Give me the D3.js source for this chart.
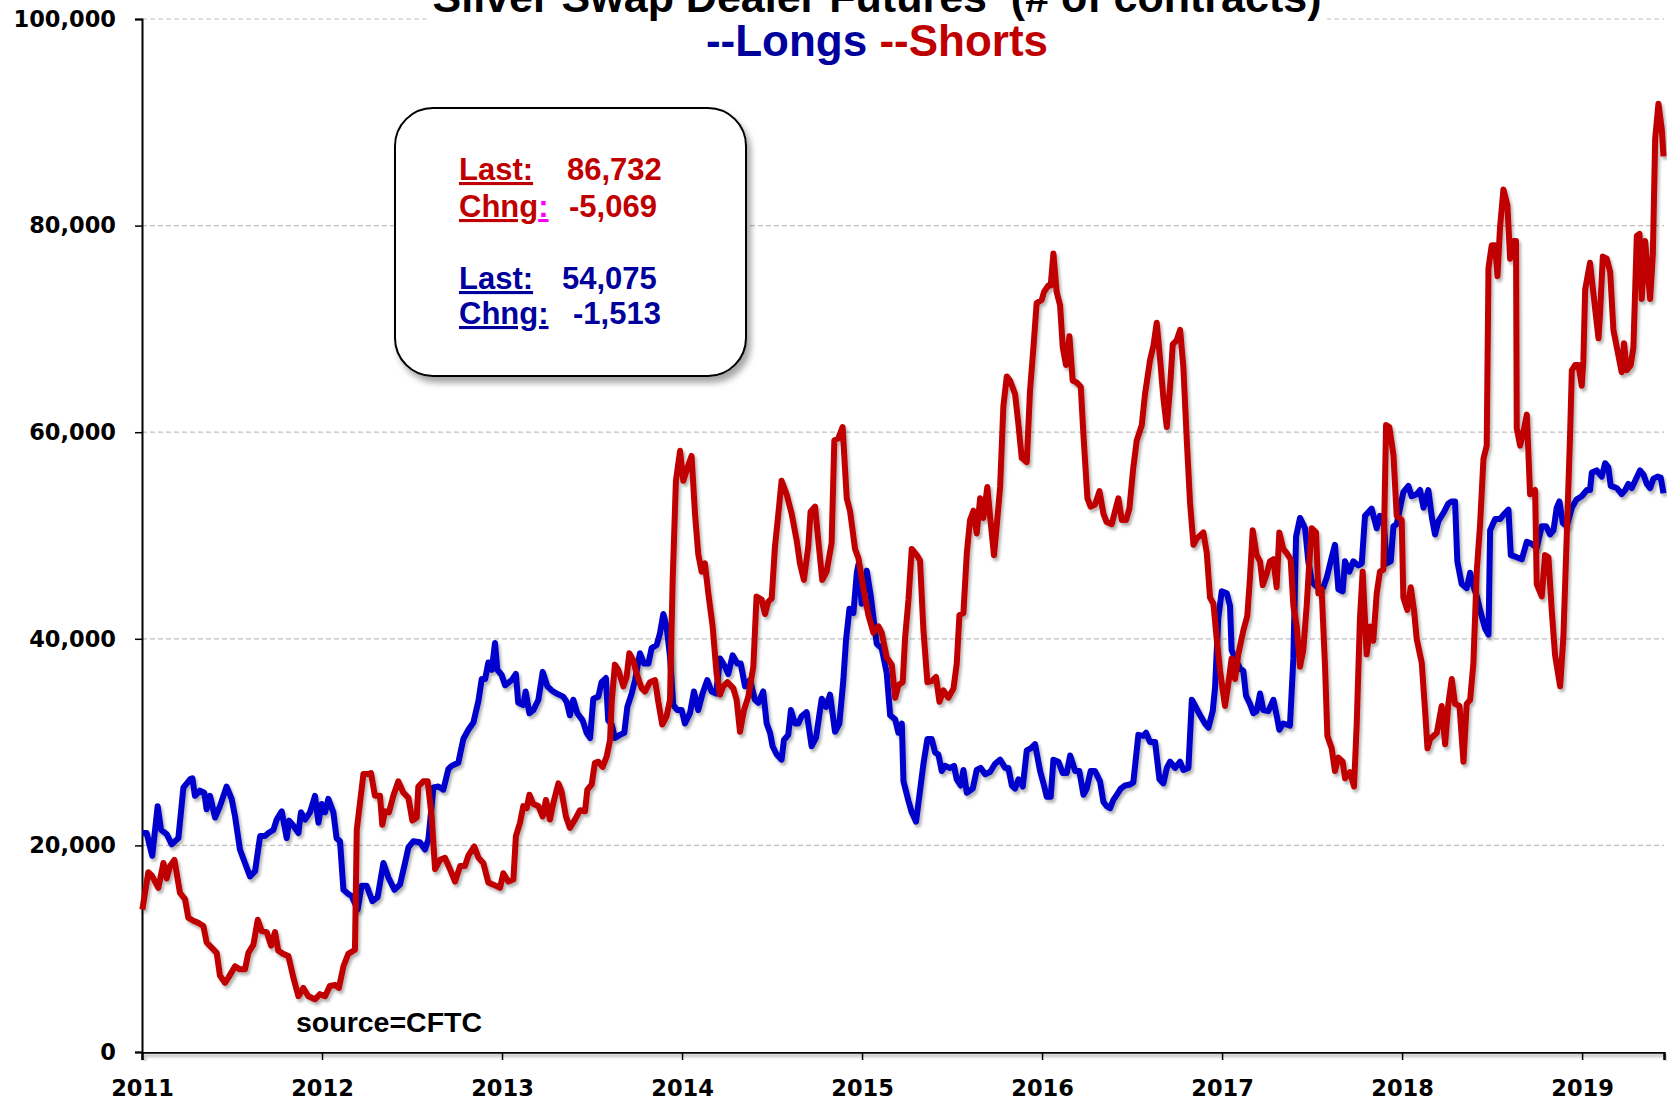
<!DOCTYPE html>
<html>
<head>
<meta charset="utf-8">
<script src="https://cdnjs.cloudflare.com/ajax/libs/d3/7.8.5/d3.min.js"></script>
<style>
body { margin: 0; background: #fff; }
text { font-family: "Liberation Sans", Arial, sans-serif; font-weight: bold; }
</style>
</head>
<body>
<script>
var w = 1667;
var h = 1103;

// tick values
var yearTicks = [2011, 2012, 2013, 2014, 2015, 2016, 2017, 2018, 2019];
var yTicks = [0, 20000, 40000, 60000, 80000, 100000];

// swap dealer longs, [decimal year, thousands of contracts]
var longs = [
  [2011.002,21.2],[2011.026,21.2],[2011.044,19.9],[2011.057,19.0],[2011.087,23.8],[2011.106,21.5],[2011.137,21.1],[2011.165,20.1],
  [2011.202,20.7],[2011.230,25.6],[2011.267,26.4],[2011.280,26.5],[2011.294,24.8],[2011.322,25.3],[2011.346,25.1],[2011.359,23.5],
  [2011.378,24.8],[2011.406,22.7],[2011.433,23.8],[2011.470,25.7],[2011.498,24.5],[2011.517,22.8],[2011.544,19.6],[2011.572,18.3],
  [2011.600,17.0],[2011.628,17.5],[2011.656,20.9],[2011.683,20.9],[2011.702,21.2],[2011.730,21.5],[2011.748,22.5],[2011.776,23.3],
  [2011.804,20.7],[2011.817,22.4],[2011.841,21.9],[2011.869,21.2],[2011.883,23.2],[2011.906,22.5],[2011.933,23.2],[2011.961,24.8],
  [2011.980,22.2],[2011.998,24.0],[2012.017,23.2],[2012.035,24.5],[2012.063,23.2],[2012.081,20.7],[2012.100,20.4],[2012.119,15.7],
  [2012.146,15.3],[2012.165,15.1],[2012.198,13.8],[2012.220,16.1],[2012.248,16.1],[2012.280,14.6],[2012.309,15.0],[2012.341,18.3],
  [2012.369,16.9],[2012.402,15.7],[2012.433,16.2],[2012.461,18.3],[2012.480,19.8],[2012.507,20.4],[2012.544,20.3],[2012.572,19.6],
  [2012.591,20.6],[2012.619,25.6],[2012.646,25.7],[2012.674,25.4],[2012.702,27.4],[2012.720,27.7],[2012.757,28.0],[2012.785,30.3],
  [2012.813,31.2],[2012.841,31.9],[2012.869,34.0],[2012.887,36.1],[2012.906,36.1],[2012.924,37.7],[2012.943,37.0],[2012.961,39.6],
  [2012.974,37.0],[2012.998,36.5],[2013.017,35.5],[2013.053,36.0],[2013.077,36.6],[2013.090,33.8],[2013.118,33.6],[2013.131,34.9],
  [2013.152,32.8],[2013.174,33.1],[2013.202,34.1],[2013.226,36.8],[2013.252,35.4],[2013.276,35.0],[2013.303,34.7],[2013.340,34.4],
  [2013.359,33.9],[2013.377,32.6],[2013.396,34.1],[2013.418,32.8],[2013.448,32.1],[2013.470,30.9],[2013.489,30.4],[2013.507,34.2],
  [2013.535,34.4],[2013.553,35.8],[2013.577,36.2],[2013.590,32.1],[2013.609,31.7],[2013.627,30.4],[2013.655,30.7],[2013.679,30.9],
  [2013.696,33.4],[2013.720,34.7],[2013.739,36.0],[2013.766,38.6],[2013.789,37.6],[2013.813,37.6],[2013.831,39.1],[2013.859,39.4],
  [2013.877,40.5],[2013.896,42.4],[2013.914,41.2],[2013.933,38.3],[2013.951,33.6],[2013.974,33.1],[2013.998,33.1],[2014.016,31.8],
  [2014.044,32.8],[2014.066,34.9],[2014.090,33.1],[2014.114,34.7],[2014.140,36.0],[2014.164,34.9],[2014.189,34.7],[2014.211,38.1],
  [2014.239,37.3],[2014.257,36.6],[2014.281,38.4],[2014.307,37.6],[2014.326,37.6],[2014.350,35.4],[2014.377,36.0],[2014.405,34.1],
  [2014.424,33.8],[2014.451,34.9],[2014.470,31.8],[2014.489,30.9],[2014.503,29.6],[2014.526,28.8],[2014.553,28.3],[2014.566,30.2],
  [2014.590,30.7],[2014.605,33.1],[2014.627,31.8],[2014.646,31.8],[2014.664,32.5],[2014.692,32.9],[2014.720,29.6],[2014.744,30.4],
  [2014.776,34.2],[2014.800,33.4],[2014.822,34.6],[2014.850,31.0],[2014.874,31.8],[2014.896,36.0],[2014.911,39.9],[2014.930,42.9],
  [2014.952,42.5],[2014.971,46.4],[2014.980,47.2],[2014.998,43.4],[2015.026,46.6],[2015.048,44.2],[2015.072,40.8],[2015.082,39.5],
  [2015.109,39.1],[2015.137,36.7],[2015.156,32.6],[2015.184,32.2],[2015.202,30.9],[2015.221,31.8],[2015.230,26.2],[2015.258,24.3],
  [2015.276,23.2],[2015.300,22.3],[2015.322,25.3],[2015.341,27.9],[2015.363,30.3],[2015.387,30.3],[2015.406,29.0],[2015.424,28.8],
  [2015.443,27.2],[2015.461,27.7],[2015.489,27.5],[2015.511,27.7],[2015.526,26.4],[2015.548,25.8],[2015.563,27.3],[2015.582,25.1],
  [2015.615,25.5],[2015.637,27.3],[2015.659,27.5],[2015.684,26.9],[2015.711,27.1],[2015.739,27.9],[2015.767,28.3],[2015.795,27.5],
  [2015.813,27.5],[2015.832,25.8],[2015.850,25.5],[2015.869,26.4],[2015.893,25.7],[2015.915,29.2],[2015.937,29.4],[2015.961,29.8],
  [2015.989,27.2],[2016.011,25.8],[2016.026,24.7],[2016.048,24.7],[2016.063,28.3],[2016.091,28.1],[2016.115,27.0],[2016.137,27.0],
  [2016.156,28.7],[2016.184,27.2],[2016.207,27.2],[2016.230,24.9],[2016.248,25.5],[2016.270,27.2],[2016.294,27.2],[2016.322,26.2],
  [2016.341,24.2],[2016.359,23.8],[2016.378,23.6],[2016.396,24.4],[2016.415,24.9],[2016.437,25.5],[2016.461,25.8],[2016.489,25.9],
  [2016.507,26.1],[2016.535,30.7],[2016.563,30.6],[2016.578,30.9],[2016.600,30.0],[2016.628,30.0],[2016.652,26.4],[2016.674,26.0],
  [2016.693,27.5],[2016.711,28.1],[2016.739,27.5],[2016.767,28.1],[2016.785,27.3],[2016.813,27.5],[2016.832,34.1],[2016.878,32.6],
  [2016.905,31.8],[2016.924,31.4],[2016.948,33.0],[2016.961,35.3],[2016.979,42.0],[2016.998,44.6],[2017.026,44.4],[2017.044,43.2],
  [2017.053,38.9],[2017.072,38.1],[2017.100,37.1],[2017.118,36.9],[2017.133,34.5],[2017.155,33.7],[2017.174,32.8],[2017.192,33.0],
  [2017.211,34.7],[2017.229,33.1],[2017.257,33.0],[2017.285,34.1],[2017.303,32.6],[2017.318,31.2],[2017.340,31.8],[2017.377,31.6],
  [2017.396,38.1],[2017.411,49.9],[2017.433,51.7],[2017.461,50.7],[2017.479,47.5],[2017.498,45.6],[2017.516,45.2],[2017.544,44.8],
  [2017.563,45.0],[2017.581,45.9],[2017.609,47.9],[2017.627,49.1],[2017.646,44.8],[2017.670,44.6],[2017.683,47.5],[2017.707,46.5],
  [2017.729,47.5],[2017.757,47.1],[2017.776,47.3],[2017.794,51.9],[2017.831,52.6],[2017.859,50.7],[2017.877,51.9],[2017.896,51.7],
  [2017.914,47.3],[2017.937,47.5],[2017.952,50.9],[2017.970,51.1],[2018.007,54.2],[2018.035,54.8],[2018.053,53.8],[2018.081,54.0],
  [2018.100,54.4],[2018.119,52.7],[2018.146,54.4],[2018.165,51.8],[2018.183,50.1],[2018.202,51.4],[2018.230,52.2],[2018.257,53.1],
  [2018.276,53.3],[2018.294,53.3],[2018.307,47.5],[2018.331,45.3],[2018.359,44.9],[2018.378,46.4],[2018.396,45.1],[2018.415,44.1],
  [2018.433,42.8],[2018.461,41.0],[2018.480,40.4],[2018.489,50.5],[2018.517,51.6],[2018.544,51.6],[2018.563,52.0],[2018.591,52.5],
  [2018.604,48.1],[2018.637,47.9],[2018.665,47.7],[2018.693,49.4],[2018.720,49.2],[2018.748,48.8],[2018.776,50.9],[2018.800,50.9],
  [2018.822,50.1],[2018.841,50.5],[2018.859,52.7],[2018.874,53.3],[2018.893,51.2],[2018.915,50.9],[2018.943,52.7],[2018.970,53.5],
  [2018.998,53.8],[2019.026,54.4],[2019.044,54.4],[2019.054,56.1],[2019.081,56.3],[2019.109,55.7],[2019.128,57.0],[2019.146,56.6],
  [2019.159,54.8],[2019.193,54.6],[2019.220,54.0],[2019.239,54.4],[2019.257,55.0],[2019.276,54.6],[2019.300,55.5],[2019.322,56.3],
  [2019.341,55.9],[2019.359,55.0],[2019.378,54.6],[2019.396,55.5],[2019.419,55.7],[2019.437,55.6],[2019.452,54.1]
];

// swap dealer shorts, [decimal year, thousands of contracts]
var shorts = [
  [2011.002,13.8],[2011.035,17.4],[2011.054,17.1],[2011.091,15.9],[2011.119,18.3],[2011.137,16.8],[2011.156,18.0],[2011.180,18.6],
  [2011.211,15.4],[2011.239,14.8],[2011.257,13.0],[2011.285,12.7],[2011.313,12.5],[2011.341,12.2],[2011.359,10.6],[2011.387,10.1],
  [2011.415,9.6],[2011.433,7.4],[2011.461,6.7],[2011.480,7.2],[2011.517,8.3],[2011.544,8.0],[2011.572,8.0],[2011.591,9.6],
  [2011.619,10.4],[2011.643,12.8],[2011.665,11.7],[2011.693,11.6],[2011.717,10.3],[2011.739,11.6],[2011.757,9.8],[2011.785,9.5],
  [2011.813,9.3],[2011.841,7.2],[2011.869,5.4],[2011.896,6.2],[2011.924,5.4],[2011.961,5.1],[2011.989,5.6],[2012.017,5.4],
  [2012.044,6.4],[2012.072,6.5],[2012.094,6.2],[2012.119,8.3],[2012.146,9.5],[2012.183,9.9],[2012.193,21.5],[2012.230,26.9],
  [2012.257,26.9],[2012.272,27.0],[2012.294,24.8],[2012.322,24.8],[2012.335,22.0],[2012.350,23.3],[2012.372,23.2],[2012.396,24.8],
  [2012.424,26.2],[2012.452,25.1],[2012.480,24.6],[2012.502,22.4],[2012.526,22.7],[2012.535,25.7],[2012.563,26.2],[2012.587,26.2],
  [2012.609,22.8],[2012.628,17.7],[2012.656,18.6],[2012.683,18.8],[2012.711,17.7],[2012.739,16.5],[2012.767,18.0],[2012.794,18.0],
  [2012.813,19.0],[2012.846,19.9],[2012.869,18.8],[2012.896,18.3],[2012.924,16.4],[2012.952,16.2],[2012.989,15.9],[2013.007,17.3],
  [2013.035,16.5],[2013.063,16.7],[2013.077,20.9],[2013.100,22.2],[2013.118,23.8],[2013.137,23.6],[2013.152,24.9],[2013.174,24.0],
  [2013.202,23.8],[2013.226,22.8],[2013.244,24.4],[2013.266,22.5],[2013.285,24.1],[2013.313,26.0],[2013.331,25.2],[2013.355,22.8],
  [2013.377,21.7],[2013.405,22.5],[2013.433,23.4],[2013.461,23.3],[2013.474,25.4],[2013.498,25.9],[2013.516,28.0],[2013.535,28.1],
  [2013.559,27.6],[2013.581,28.6],[2013.600,30.2],[2013.609,33.8],[2013.627,37.5],[2013.646,37.0],[2013.674,35.4],[2013.692,36.3],
  [2013.707,38.6],[2013.729,37.9],[2013.748,36.6],[2013.776,35.2],[2013.794,34.9],[2013.822,35.8],[2013.850,36.0],[2013.868,33.9],
  [2013.890,31.7],[2013.914,32.5],[2013.933,34.1],[2013.948,45.7],[2013.966,55.3],[2013.989,58.2],[2014.007,55.3],[2014.029,56.5],
  [2014.053,57.7],[2014.072,52.1],[2014.090,48.2],[2014.109,46.5],[2014.127,47.3],[2014.146,44.4],[2014.170,41.2],[2014.192,36.6],
  [2014.211,34.6],[2014.229,35.4],[2014.252,35.8],[2014.285,35.2],[2014.303,34.1],[2014.322,31.0],[2014.344,33.1],[2014.368,34.4],
  [2014.396,37.3],[2014.414,44.1],[2014.442,43.8],[2014.461,42.4],[2014.479,43.6],[2014.498,43.9],[2014.516,48.9],[2014.535,52.1],
  [2014.553,55.3],[2014.581,54.0],[2014.609,52.1],[2014.637,49.5],[2014.655,47.3],[2014.677,45.7],[2014.701,48.9],[2014.714,52.3],
  [2014.739,52.8],[2014.757,49.5],[2014.779,45.7],[2014.803,46.5],[2014.831,49.3],[2014.846,59.2],[2014.868,59.4],[2014.892,60.5],
  [2014.915,53.6],[2014.933,52.4],[2014.961,48.7],[2014.980,47.8],[2015.007,44.9],[2015.035,42.3],[2015.063,40.6],[2015.091,41.2],
  [2015.109,40.6],[2015.137,38.2],[2015.165,37.5],[2015.184,34.3],[2015.202,35.5],[2015.226,35.8],[2015.239,40.1],[2015.258,43.8],
  [2015.276,48.7],[2015.304,48.1],[2015.322,47.6],[2015.341,40.8],[2015.363,35.8],[2015.387,35.9],[2015.411,36.3],[2015.430,33.9],
  [2015.452,35.0],[2015.480,34.3],[2015.508,35.2],[2015.526,37.6],[2015.541,42.3],[2015.563,42.5],[2015.582,48.3],[2015.600,51.5],
  [2015.619,52.4],[2015.637,50.2],[2015.656,53.6],[2015.674,51.7],[2015.696,54.7],[2015.711,51.9],[2015.733,48.1],[2015.748,50.9],
  [2015.767,54.7],[2015.785,62.5],[2015.804,65.4],[2015.822,65.0],[2015.850,63.7],[2015.869,60.7],[2015.887,57.5],[2015.915,57.1],
  [2015.933,64.0],[2015.952,68.2],[2015.970,72.5],[2015.998,72.8],[2016.011,73.6],[2016.035,74.2],[2016.048,74.2],[2016.063,77.3],
  [2016.081,73.6],[2016.100,72.3],[2016.115,68.2],[2016.133,66.5],[2016.152,69.3],[2016.170,65.0],[2016.193,64.8],[2016.215,64.4],
  [2016.230,59.7],[2016.252,53.6],[2016.270,52.8],[2016.294,53.0],[2016.319,54.3],[2016.341,52.1],[2016.359,51.3],[2016.387,51.1],
  [2016.406,52.4],[2016.424,53.6],[2016.443,51.5],[2016.467,51.5],[2016.485,52.6],[2016.507,56.6],[2016.526,59.2],[2016.554,60.7],
  [2016.572,63.7],[2016.600,67.0],[2016.619,68.4],[2016.637,70.6],[2016.656,67.0],[2016.674,63.3],[2016.693,60.5],[2016.711,64.4],
  [2016.726,68.5],[2016.748,68.9],[2016.767,69.9],[2016.785,66.3],[2016.804,59.2],[2016.822,53.2],[2016.841,49.1],[2016.859,49.7],
  [2016.896,50.3],[2016.915,48.3],[2016.933,44.0],[2016.952,43.4],[2016.970,40.0],[2016.989,36.9],[2017.016,33.5],[2017.035,35.7],
  [2017.053,38.1],[2017.072,36.1],[2017.090,38.5],[2017.118,40.8],[2017.140,42.2],[2017.155,45.9],[2017.170,50.5],[2017.192,48.1],
  [2017.211,47.5],[2017.226,45.2],[2017.248,46.3],[2017.266,47.5],[2017.285,47.7],[2017.303,45.0],[2017.318,50.3],[2017.340,48.7],
  [2017.359,48.3],[2017.381,47.7],[2017.396,43.2],[2017.415,41.2],[2017.433,37.3],[2017.451,38.9],[2017.470,43.2],[2017.485,47.5],
  [2017.498,50.7],[2017.522,50.3],[2017.535,44.4],[2017.553,44.8],[2017.572,37.3],[2017.585,30.6],[2017.609,29.4],[2017.627,27.2],
  [2017.646,28.5],[2017.670,28.1],[2017.683,26.5],[2017.711,27.1],[2017.733,25.7],[2017.748,31.8],[2017.766,42.0],[2017.781,46.5],
  [2017.803,38.5],[2017.822,41.2],[2017.840,39.8],[2017.859,44.4],[2017.877,46.5],[2017.896,46.7],[2017.911,60.7],[2017.929,60.5],
  [2017.952,57.8],[2017.970,51.9],[2017.998,51.5],[2018.007,44.0],[2018.029,42.8],[2018.048,45.0],[2018.066,42.8],[2018.081,40.0],
  [2018.109,37.7],[2018.128,33.0],[2018.141,29.4],[2018.156,30.3],[2018.193,30.9],[2018.220,33.5],[2018.239,29.8],[2018.257,33.7],
  [2018.276,36.1],[2018.294,33.7],[2018.319,33.5],[2018.341,28.1],[2018.359,33.7],[2018.378,34.1],[2018.396,37.6],[2018.415,46.6],
  [2018.433,51.0],[2018.452,57.4],[2018.470,58.7],[2018.480,75.9],[2018.498,78.1],[2018.517,78.1],[2018.530,75.1],[2018.544,79.8],
  [2018.563,83.5],[2018.585,82.0],[2018.600,76.8],[2018.619,78.5],[2018.633,78.5],[2018.637,60.4],[2018.656,58.7],[2018.678,60.4],
  [2018.693,61.7],[2018.711,54.0],[2018.739,54.4],[2018.748,45.3],[2018.776,44.1],[2018.794,48.1],[2018.813,47.9],[2018.831,42.8],
  [2018.850,38.4],[2018.878,35.4],[2018.896,40.2],[2018.915,50.1],[2018.933,59.6],[2018.943,66.0],[2018.961,66.5],[2018.980,66.5],
  [2018.998,64.5],[2019.007,66.9],[2019.017,73.8],[2019.044,76.4],[2019.063,73.4],[2019.091,69.1],[2019.100,71.6],[2019.115,77.0],
  [2019.137,76.8],[2019.156,75.5],[2019.174,69.9],[2019.193,68.2],[2019.220,65.8],[2019.233,68.6],[2019.248,66.0],[2019.270,66.5],
  [2019.285,68.2],[2019.304,79.0],[2019.319,79.2],[2019.331,72.9],[2019.350,78.5],[2019.378,72.9],[2019.393,77.2],[2019.406,88.4],
  [2019.424,91.8],[2019.443,89.3],[2019.452,86.7]
];

// text in the box
var shortsBox = ["86,732", "-5,069"];
var longsBox = ["54,075", "-1,513"];

var red = "#c00000";
var blueLine = "#0000cc";
var blueText = "#00009c";

var svg = d3.select("body").append("svg")
            .attr("width", w)
            .attr("height", h);

var defs = svg.append("defs");
var sh = defs.append("filter").attr("id", "lineShadow")
             .attr("x", "-5%").attr("y", "-5%").attr("width", "110%").attr("height", "110%");
sh.append("feDropShadow").attr("dx", 2).attr("dy", 3).attr("stdDeviation", 1.5)
  .attr("flood-color", "#000").attr("flood-opacity", 0.3);
var bs = defs.append("filter").attr("id", "boxShadow")
             .attr("x", "-10%").attr("y", "-10%").attr("width", "125%").attr("height", "125%");
bs.append("feDropShadow").attr("dx", 4).attr("dy", 6).attr("stdDeviation", 3)
  .attr("flood-color", "#000").attr("flood-opacity", 0.35);

var x = d3.scaleLinear().domain([2011, 2019.455]).range([142, 1664]);
var y = d3.scaleLinear().domain([0, 100000]).range([1052, 19]);

// grid
svg.append("g")
   .selectAll("line")
   .data(yTicks.filter(function(d) { return d > 0; }))
   .enter().append("line")
   .attr("x1", x(2011)).attr("x2", x(2019.455))
   .attr("y1", function(d) { return y(d); })
   .attr("y2", function(d) { return y(d); })
   .attr("stroke", "#c0c0c0")
   .attr("stroke-width", 1.2)
   .attr("stroke-dasharray", "5,3");

// title background hides the top grid line
svg.append("rect")
   .attr("x", 430).attr("y", 0)
   .attr("width", 897).attr("height", 70)
   .attr("fill", "white");

svg.append("text")
   .attr("x", 877).attr("y", 12)
   .attr("text-anchor", "middle")
   .attr("font-size", 43)
   .style("white-space", "pre")
   .text("Silver Swap Dealer Futures  (# of contracts)");

var leg = svg.append("text")
             .attr("x", 877).attr("y", 56)
             .attr("text-anchor", "middle")
             .attr("font-size", 44)
             .style("white-space", "pre");
leg.append("tspan").attr("fill", blueText).text("--Longs ");
leg.append("tspan").attr("fill", red).text("--Shorts");

// axes
var yAxis = svg.append("g")
               .attr("transform", "translate(" + x(2011) + ",0)")
               .call(d3.axisLeft(y).tickValues(yTicks).tickFormat(d3.format(",")).tickSize(7).tickPadding(19));
yAxis.select(".domain").attr("stroke", "#000").attr("stroke-width", 2);
yAxis.selectAll(".tick line").attr("stroke", "#000").attr("stroke-width", 1.5);
yAxis.selectAll("text")
     .style("font-family", "'DejaVu Sans', Verdana, sans-serif")
     .style("font-weight", "bold")
     .style("font-size", "22.5px")
     .attr("fill", "#000");

var xAxis = svg.append("g")
               .attr("transform", "translate(0," + y(0) + ")")
               .call(d3.axisBottom(x).tickValues(yearTicks).tickFormat(d3.format("d")).tickSize(8).tickPadding(20));
xAxis.select(".domain").attr("stroke", "#000").attr("stroke-width", 2.5)
     .attr("filter", "url(#lineShadow)");
xAxis.selectAll(".tick line").attr("stroke", "#000").attr("stroke-width", 1.5);
xAxis.selectAll("text")
     .style("font-family", "'DejaVu Sans', Verdana, sans-serif")
     .style("font-weight", "bold")
     .style("font-size", "22.5px")
     .attr("fill", "#000");

// lines
var line = d3.line()
             .x(function(d) { return x(d[0]); })
             .y(function(d) { return y(d[1] * 1000); });

svg.append("path")
   .datum(longs)
   .attr("d", line)
   .attr("fill", "none")
   .attr("stroke", blueLine)
   .attr("stroke-width", 6)
   .attr("stroke-linejoin", "round")
   .attr("filter", "url(#lineShadow)");

svg.append("path")
   .datum(shorts)
   .attr("d", line)
   .attr("fill", "none")
   .attr("stroke", red)
   .attr("stroke-width", 6)
   .attr("stroke-linejoin", "round")
   .attr("filter", "url(#lineShadow)");

// source note
svg.append("text")
   .attr("x", 296).attr("y", 1032)
   .attr("font-size", 28.5)
   .text("source=CFTC");

// info box
svg.append("rect")
   .attr("x", 395).attr("y", 108)
   .attr("width", 351).attr("height", 268)
   .attr("rx", 38).attr("ry", 38)
   .attr("fill", "white")
   .attr("stroke", "#000")
   .attr("stroke-width", 2)
   .attr("filter", "url(#boxShadow)");

function boxRow(yy, label, value, vx, color, magentaColon) {
  var t = svg.append("text").attr("x", 459).attr("y", yy).attr("font-size", 31).attr("fill", color);
  if (magentaColon) {
    t.append("tspan").style("text-decoration", "underline").text("Chng");
    t.append("tspan").attr("fill", "#ff00ff").style("text-decoration", "underline").text(":");
  } else {
    t.append("tspan").style("text-decoration", "underline").text(label);
  }
  svg.append("text").attr("x", vx).attr("y", yy).attr("font-size", 31).attr("fill", color).text(value);
}

boxRow(180, "Last:", shortsBox[0], 567, red, false);
boxRow(217, "Chng:", shortsBox[1], 569, red, true);
boxRow(289, "Last:", longsBox[0], 562, blueText, false);
boxRow(324, "Chng:", longsBox[1], 573, blueText, false);
</script>
</body>
</html>
